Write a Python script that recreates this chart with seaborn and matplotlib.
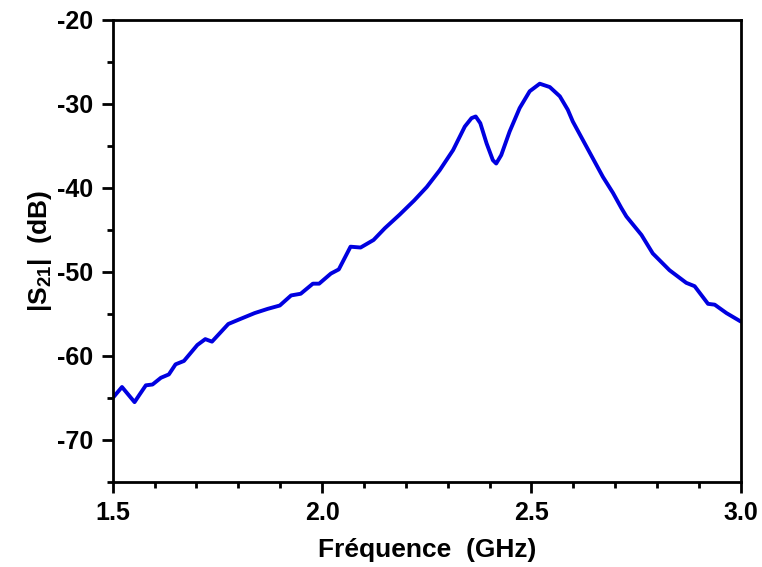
import pandas as pd
import seaborn as sns
import matplotlib.pyplot as plt
from matplotlib.ticker import MultipleLocator

# values
freq_ghz = [1.500, 1.522, 1.552, 1.564, 1.579, 1.595, 1.615, 1.634, 1.650, 1.670,
            1.702, 1.721, 1.737, 1.776, 1.800, 1.839, 1.870, 1.899, 1.926, 1.949,
            1.978, 1.993, 2.021, 2.040, 2.068, 2.092, 2.123, 2.150, 2.185, 2.220,
            2.250, 2.281, 2.313, 2.341, 2.357, 2.367, 2.378, 2.393, 2.408, 2.416,
            2.428, 2.448, 2.472, 2.496, 2.520, 2.544, 2.568, 2.587, 2.599, 2.623,
            2.647, 2.671, 2.695, 2.715, 2.727, 2.763, 2.790, 2.830, 2.870, 2.890,
            2.922, 2.938, 2.966, 3.000]
s21_db = [-65.0, -63.7, -65.5, -64.6, -63.5, -63.4, -62.6, -62.2, -61.0, -60.6,
          -58.7, -58.0, -58.3, -56.2, -55.7, -54.9, -54.4, -54.0, -52.8, -52.6,
          -51.4, -51.4, -50.2, -49.7, -47.0, -47.1, -46.2, -44.8, -43.2, -41.5,
          -39.9, -37.9, -35.5, -32.7, -31.7, -31.5, -32.3, -34.7, -36.7, -37.1,
          -36.1, -33.3, -30.5, -28.5, -27.6, -28.0, -29.1, -30.7, -32.1, -34.3,
          -36.5, -38.7, -40.6, -42.4, -43.4, -45.6, -47.8, -49.8, -51.3, -51.7,
          -53.8, -53.9, -54.9, -55.9]

df = pd.DataFrame({'freq': freq_ghz, 's21': s21_db})

sns.set_style('ticks')
plt.rcParams['font.family'] = ['Liberation Sans', 'DejaVu Sans']
plt.rcParams['font.weight'] = 'bold'
plt.rcParams['text.color'] = 'black'
plt.rcParams['axes.labelcolor'] = 'black'
plt.rcParams['xtick.color'] = 'black'
plt.rcParams['ytick.color'] = 'black'
plt.rcParams['mathtext.fontset'] = 'custom'
plt.rcParams['mathtext.rm'] = 'Liberation Sans:bold'
plt.rcParams['mathtext.bf'] = 'Liberation Sans:bold'
plt.rcParams['mathtext.default'] = 'bf'

fig = plt.figure(figsize=(7.62, 5.67), dpi=100)
ax = fig.add_axes([0.148, 0.150, 0.824, 0.815])

sns.lineplot(data=df, x='freq', y='s21', ax=ax, color='#0000e0', linewidth=2.8)

ax.set_xlim(1.5, 3.0)
ax.set_ylim(-75, -20)
ax.xaxis.set_minor_locator(MultipleLocator(0.1))
ax.yaxis.set_minor_locator(MultipleLocator(5))
ax.set_xticks([1.5, 2.0, 2.5, 3.0])
ax.set_xticklabels(['1.5', '2.0', '2.5', '3.0'])
ax.set_yticks([-70, -60, -50, -40, -30, -20])
ax.set_yticklabels(['-70', '-60', '-50', '-40', '-30', '-20'])

for side in ['top', 'right', 'left', 'bottom']:
    ax.spines[side].set_linewidth(2)
    ax.spines[side].set_color('black')
ax.tick_params(which='major', direction='out', length=8, width=2, labelsize=18,
               top=False, right=False, pad=6)
ax.tick_params(which='minor', direction='out', length=4, width=2,
               top=False, right=False)

ax.set_xlabel('Fréquence  (GHz)', fontsize=19, fontweight='bold', labelpad=9)
ax.set_ylabel(r'|S$_{21}$|  (dB)', fontsize=19, fontweight='bold', labelpad=2)

fig.savefig('out.png', dpi=100)
